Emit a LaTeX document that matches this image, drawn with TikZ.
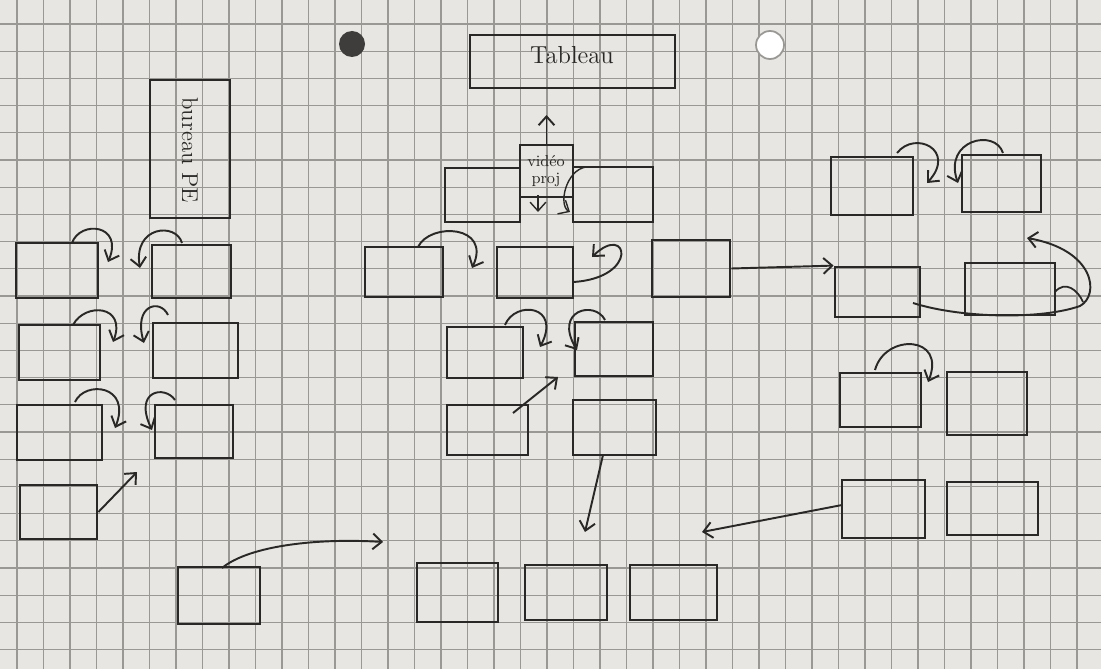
\documentclass[tikz,border=0pt]{standalone}
\usetikzlibrary{arrows.meta,fit}
\definecolor{paper}{HTML}{E7E6E2}
\definecolor{gridc}{HTML}{9A9894}
\definecolor{ink}{HTML}{2A2826}
\begin{document}
\begin{tikzpicture}[x=0.02cm,y=-0.02cm,
  desk/.style={draw=ink,line width=1.6pt,inner sep=0pt,fill=none},
  mv/.style={draw=ink,line width=1.1pt,-{Straight Barb[length=5pt,width=9pt]}},
  gridline/.style={draw=gridc,line width=0.7pt},
  lbl/.style={text=ink,inner sep=0pt}]
\fill[paper] (0,0) rectangle (1101,669);
\useasboundingbox (0,0) rectangle (1101,669);
% grid paper
\foreach \i in {0,...,41} \draw[gridline] ({17+26.5*\i},0) -- ++(0,669);
\foreach \j in {0,...,24} \draw[gridline] (0,{24+27.2*\j}) -- ++(1101,0);
% punched holes
\fill[ink!90] (352,44) circle (13);
\fill[white] (770,45) circle (14);
\draw[gridc,line width=1pt] (770,45) circle (14);
% ---- left group ----
\node[desk,fit={(150,80)(230,218)}] (bureau) {};
\node[lbl,rotate=-90,font=\fontsize{13}{13}\selectfont] (bureautxt) at (190,150) {bureau PE};
\node[desk,fit={(16,243)(98,298)}] (a1) {};
\node[desk,fit={(152,245)(231,298)}] (b1) {};
\node[desk,fit={(19,325)(100,380)}] (a2) {};
\node[desk,fit={(153,323)(238,378)}] (b2) {};
\node[desk,fit={(17,405)(102,460)}] (a3) {};
\node[desk,fit={(155,405)(233,458)}] (b3) {};
\node[desk,fit={(20,485)(97,539)}] (a4) {};
\node[desk,fit={(178,567)(260,624)}] (c1) {};
\draw[mv] (72,243) .. controls (80,220) and (124,224) .. (108,262);
\draw[mv] (182,243) .. controls (176,222) and (133,226) .. (140,268);
\draw[mv] (73,325) .. controls (85,302) and (127,305) .. (113,342);
\draw[mv] (168,315) .. controls (160,298) and (133,305) .. (144,343);
\draw[mv] (75,402) .. controls (85,380) and (132,385) .. (115,428);
\draw[mv] (175,400) .. controls (165,385) and (133,390) .. (152,430);
\draw[mv] (a4.east) -- (137,472);
\draw[mv] (222,568) .. controls (250,545) and (320,538) .. (383,542);
% ---- centre group ----
\node[desk,fit={(470,35)(675,88)}] (tableau) {};
\node[lbl,font=\fontsize{14}{14}\selectfont] (tabtxt) at (572,55) {Tableau};
\node[desk,fit={(445,168)(520,222)}] (d1) {};
\node[desk,fit={(573,167)(653,222)}] (d2) {};
\node[desk,line width=1.3pt,fit={(520,145)(573,197)}] (proj) {};
\node[lbl,font=\fontsize{9}{10}\selectfont,align=center] (projtxt) at (546,171) {vidéo\\proj};
\coordinate (projup) at (546.5,115);
\draw[mv] (proj.north) -- (projup);
\draw[mv,line width=0.8pt] (538,195) -- (538,212);
\draw[mv,line width=0.8pt] (586,167) .. controls (566,170) and (558,205) .. (570,212);
\node[desk,fit={(365,247)(443,297)}] (e1) {};
\node[desk,fit={(497,247)(573,298)}] (e2) {};
\node[desk,fit={(652,240)(730,297)}] (e3) {};
\draw[mv] (418,247) .. controls (430,222) and (492,225) .. (472,268);
\draw[mv] (573,282) .. controls (640,278) and (628,222) .. (592,257);
\node[desk,fit={(447,327)(523,378)}] (f1) {};
\node[desk,fit={(575,322)(653,376)}] (f2) {};
\draw[mv] (505,325) .. controls (515,300) and (562,305) .. (540,347);
\draw[mv] (605,320) .. controls (595,300) and (553,310) .. (577,350);
\node[desk,fit={(447,405)(528,455)}] (g1) {};
\node[desk,fit={(573,400)(656,455)}] (g2) {};
\draw[mv] (513,413) -- (558,377);
\draw[mv] (603,455) -- (585,532);
\node[desk,fit={(417,563)(498,622)}] (h1) {};
\node[desk,fit={(525,565)(607,620)}] (h2) {};
\node[desk,fit={(630,565)(717,620)}] (h3) {};
% ---- right group ----
\node[desk,fit={(831,157)(913,215)}] (r1) {};
\node[desk,fit={(962,155)(1041,212)}] (r2) {};
\draw[mv] (897,153) .. controls (915,130) and (957,150) .. (927,183);
\draw[mv] (1003,153) .. controls (995,128) and (943,140) .. (958,183);
\node[desk,fit={(835,267)(920,317)}] (r3) {};
\node[desk,fit={(965,263)(1055,315)}] (r4) {};
\draw[mv] (e3.east) -- (r3.north west);
\draw[mv] (913,303) .. controls (960,318) and (1040,320) .. (1080,306)
  .. controls (1100,295) and (1095,250) .. (1027,238);
\draw[ink,line width=1pt] (1055,292) .. controls (1065,280) and (1078,290) .. (1083,302);
\node[desk,fit={(840,373)(921,427)}] (r5) {};
\node[desk,fit={(947,372)(1027,435)}] (r6) {};
\draw[mv] (875,370) .. controls (885,333) and (947,335) .. (928,382);
\node[desk,fit={(842,480)(925,538)}] (r7) {};
\node[desk,fit={(947,482)(1038,535)}] (r8) {};
\draw[mv] (842,505) -- (702,532);
\end{tikzpicture}
\end{document}
